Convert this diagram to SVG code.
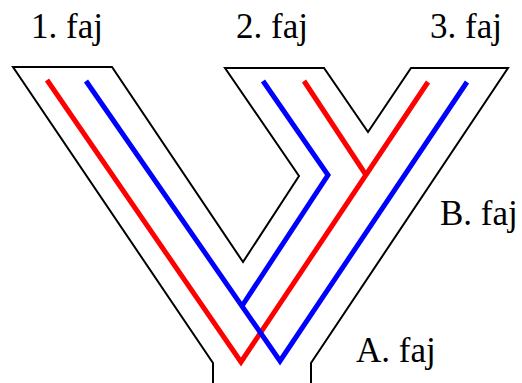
<svg xmlns="http://www.w3.org/2000/svg" width="522" height="383" viewBox="0 0 522 383">
<style>
.outline{fill:none;stroke:#000;stroke-width:2;stroke-linejoin:miter}
.red{fill:none;stroke:#ff0000;stroke-width:5;stroke-linejoin:miter}
.blue{fill:none;stroke:#0000ff;stroke-width:5;stroke-linejoin:miter}
.lbl{font-family:"Liberation Serif","Times New Roman",serif;font-size:35px;fill:#000}
</style>
<rect width="522" height="383" fill="#fff"/>
<g id="outline">
<polyline class="outline" points="213,383 213,363 13,67 112,67 243,262 299,176 225,68 324,68 368,132 411,68 508,68 311,363 311,383"/>
</g>
<g id="connectors">
<polyline class="red" points="47,80 241,362 428,82"/>
<polyline class="red" points="304,81 366,175"/>
<polyline class="blue" points="263,81 328,175 242,306"/>
<polyline class="blue" points="86,81 280,361 467,82"/>
</g>
<g id="label-1"><text class="lbl" x="31" y="38">1. faj</text></g>
<g id="label-2"><text class="lbl" x="236" y="38">2. faj</text></g>
<g id="label-3"><text class="lbl" x="430" y="38">3. faj</text></g>
<g id="label-B"><text class="lbl" x="440" y="225">B. faj</text></g>
<g id="label-A"><text class="lbl" x="356" y="362">A. faj</text></g>
</svg>
